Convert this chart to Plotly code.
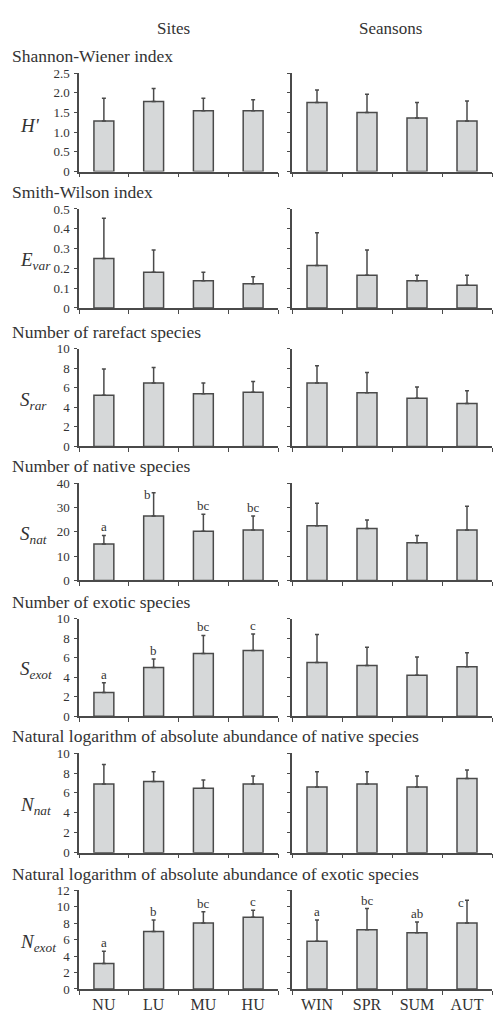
import plotly.graph_objects as go

W, H = 501, 1016

sites = ["NU", "LU", "MU", "HU"]
seasons = ["WIN", "SPR", "SUM", "AUT"]

row_titles = [
    "Shannon-Wiener index",
    "Smith-Wilson index",
    "Number of rarefact species",
    "Number of native species",
    "Number of exotic species",
    "Natural logarithm of absolute abundance of native species",
    "Natural logarithm of absolute abundance of exotic species",
]
y_labels = ["<i>H'</i>", "<i>E<sub>var</sub></i>", "<i>S<sub>rar</sub></i>", "<i>S<sub>nat</sub></i>",
            "<i>S<sub>exot</sub></i>", "<i>N<sub>nat</sub></i>", "<i>N<sub>exot</sub></i>"]

# y-axis ranges and tick labels per row
y_max = [2.5, 0.5, 10, 40, 10, 10, 12]
y_ticks = [
    ["0", "0.5", "1.0", "1.5", "2.0", "2.5"],
    ["0", "0.1", "0.2", "0.3", "0.4", "0.5"],
    ["0", "2", "4", "6", "8", "10"],
    ["0", "10", "20", "30", "40"],
    ["0", "2", "4", "6", "8", "10"],
    ["0", "2", "4", "6", "8", "10"],
    ["0", "2", "4", "6", "8", "10", "12"],
]

# Means (bar heights) and upper error-bar ends
site_mean = [
    [1.28, 1.78, 1.54, 1.54],
    [0.25, 0.18, 0.137, 0.122],
    [5.25, 6.5, 5.4, 5.55],
    [15.0, 26.5, 20.2, 20.7],
    [2.43, 5.0, 6.43, 6.73],
    [6.89, 7.15, 6.46, 6.89],
    [3.1, 7.0, 8.05, 8.75],
]
site_upper = [
    [1.86, 2.11, 1.86, 1.82],
    [0.453, 0.293, 0.18, 0.158],
    [7.95, 8.1, 6.5, 6.65],
    [18.5, 36.1, 27.2, 26.5],
    [3.43, 5.87, 8.27, 8.43],
    [8.85, 8.13, 7.31, 7.7],
    [4.6, 8.4, 9.4, 9.6],
]
season_mean = [
    [1.75, 1.5, 1.36, 1.28],
    [0.215, 0.165, 0.137, 0.115],
    [6.5, 5.5, 4.95, 4.4],
    [22.5, 21.3, 15.5, 20.7],
    [5.5, 5.2, 4.2, 5.07],
    [6.59, 6.89, 6.59, 7.44],
    [5.8, 7.2, 6.84, 8.05],
]
season_upper = [
    [2.07, 1.96, 1.75, 1.79],
    [0.38, 0.293, 0.165, 0.165],
    [8.28, 7.58, 6.1, 5.7],
    [31.7, 24.8, 18.5, 30.5],
    [8.37, 7.07, 6.07, 6.5],
    [8.13, 8.13, 7.7, 8.3],
    [8.4, 9.8, 8.16, 10.8],
]
# significance letters (empty string = none)
site_letters = [
    ["", "", "", ""], ["", "", "", ""], ["", "", "", ""],
    ["a", "b", "bc", "bc"],
    ["a", "b", "bc", "c"],
    ["", "", "", ""],
    ["a", "b", "bc", "c"],
]
season_letters = [
    ["", "", "", ""], ["", "", "", ""], ["", "", "", ""], ["", "", "", ""],
    ["", "", "", ""], ["", "", "", ""],
    ["a", "bc", "ab", "c"],
]

# ---- layout geometry (pixels) ----
row_px = [(67, 167), (205, 305.5), (347, 446), (483.3, 582), (620.7, 720), (757.3, 858.3), (896.7, 996.7)]
col_px = [(79, 278), (292, 492)]

FONT = "Liberation Serif"
TXT = "#333333"
LINE = "#4a4a4a"

def px_x(x):
    return x / W

def px_y(y):
    return 1 - y / H

fig = go.Figure()
layout = dict(
    width=W, height=H, margin=dict(l=0, r=0, t=0, b=0),
    paper_bgcolor="white", plot_bgcolor="white", showlegend=False,
    font=dict(family=FONT, color=TXT),
)
annotations = []

idx = 0
for r in range(7):
    for c in range(2):
        idx += 1
        xa = "x" if idx == 1 else f"x{idx}"
        ya = "y" if idx == 1 else f"y{idx}"
        cats = sites if c == 0 else seasons
        mean = site_mean[r] if c == 0 else season_mean[r]
        upper = site_upper[r] if c == 0 else season_upper[r]
        letters = site_letters[r] if c == 0 else season_letters[r]
        fig.add_trace(go.Bar(
            x=cats, y=mean, xaxis=xa, yaxis=ya, width=0.4,
            marker=dict(color="#d6d8d9", line=dict(color=LINE, width=1.5)),
            error_y=dict(type="data", symmetric=False,
                         array=[u - m for u, m in zip(upper, mean)],
                         arrayminus=[0] * 4, color=LINE, thickness=1.5, width=2),
            hoverinfo="skip",
        ))
        top, bot = row_px[r]
        left, right = col_px[c]
        xkey = "xaxis" if idx == 1 else f"xaxis{idx}"
        ykey = "yaxis" if idx == 1 else f"yaxis{idx}"
        layout[xkey] = dict(
            domain=[px_x(left), px_x(right)], anchor=ya, type="category",
            range=[-0.5, 3.5], tickson="boundaries", ticks="outside", ticklen=4,
            tickcolor=LINE, tickwidth=1, showline=True, linecolor=LINE, linewidth=1.5,
            showgrid=False, zeroline=False, showticklabels=(r == 6),
            tickfont=dict(family=FONT, size=16, color=TXT), fixedrange=True,
        )
        n = len(y_ticks[r])
        layout[ykey] = dict(
            domain=[px_y(bot), px_y(top)], anchor=xa, range=[0, y_max[r]],
            tickmode="array",
            tickvals=[y_max[r] * i / (n - 1) for i in range(n)],
            ticktext=y_ticks[r], ticks="outside", ticklen=3, tickcolor=LINE, tickwidth=1,
            showline=True, linecolor=LINE, linewidth=1.5, showgrid=False, zeroline=False,
            showticklabels=(c == 0), tickfont=dict(family=FONT, size=13, color=TXT),
            ticklabelstandoff=2, fixedrange=True,
        )
        # significance letters
        ppu = (bot - top) / y_max[r]
        for k, lt in enumerate(letters):
            if not lt:
                continue
            gap_px = (y_max[r] - upper[k]) * ppu
            if gap_px < 14:
                annotations.append(dict(x=cats[k], y=upper[k], xref=xa, yref=ya, text=lt,
                                        showarrow=False, xanchor="right", yanchor="middle",
                                        xshift=-1, yshift=-2,
                                        font=dict(family=FONT, size=13, color=TXT)))
            else:
                annotations.append(dict(x=cats[k], y=upper[k], xref=xa, yref=ya, text=lt,
                                        showarrow=False, xanchor="center", yanchor="bottom",
                                        yshift=-1,
                                        font=dict(family=FONT, size=13, color=TXT)))
    # row title and y label
    top, bot = row_px[r]
    annotations.append(dict(x=px_x(10), y=px_y(top - 17), xref="paper", yref="paper",
                            text=row_titles[r], showarrow=False, xanchor="left", yanchor="middle",
                            font=dict(family=FONT, size=17.5, color=TXT)))
    annotations.append(dict(x=px_x(18), y=px_y((top + bot) / 2 + 3), xref="paper", yref="paper",
                            text=y_labels[r], showarrow=False, xanchor="left", yanchor="middle",
                            font=dict(family=FONT, size=19, color=TXT)))

annotations.append(dict(x=px_x(173), y=px_y(22), xref="paper", yref="paper", text="Sites",
                        showarrow=False, xanchor="center", yanchor="middle",
                        font=dict(family=FONT, size=17, color=TXT)))
annotations.append(dict(x=px_x(390), y=px_y(22), xref="paper", yref="paper", text="Seansons",
                        showarrow=False, xanchor="center", yanchor="middle",
                        font=dict(family=FONT, size=17, color=TXT)))

layout["annotations"] = annotations
fig.update_layout(**layout)
fig.write_html("out.html")
